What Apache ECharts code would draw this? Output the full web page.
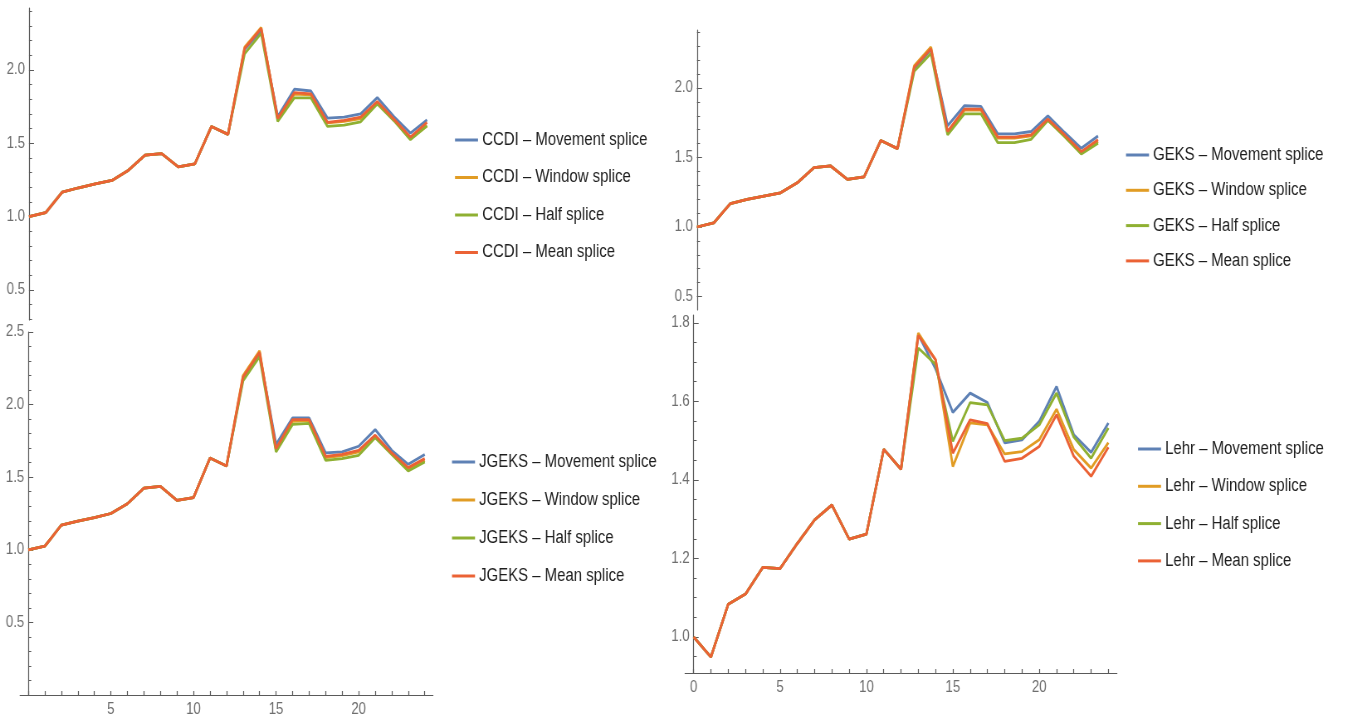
<!DOCTYPE html>
<html>
<head>
<meta charset="utf-8">
<title>Splice comparison</title>
<script src="https://cdn.jsdelivr.net/npm/echarts@6/dist/echarts.min.js"></script>
<style>
  html, body { margin: 0; padding: 0; background: #ffffff; overflow: hidden; }
  #wrap { width: 1355px; height: 720px; overflow: hidden; position: relative; }
  /* the drawing is laid out wide and squeezed horizontally, giving condensed lettering */
  #chart { height: 720px; position: absolute; left: 0; top: 0; transform-origin: 0 0; }
</style>
</head>
<body>
<div id="wrap"><div id="chart"></div></div>
<script>
// Periods on the horizontal axis
const periods = [0, 1, 2, 3, 4, 5, 6, 7, 8, 9, 10, 11, 12, 13, 14, 15, 16, 17, 18, 19, 20, 21, 22, 23, 24];

// Splice methods, one line each
const methods = ['Movement splice', 'Window splice', 'Half splice', 'Mean splice'];
const methodColors = ['#5e81b5', '#e19c24', '#8fb032', '#eb6235'];

// CCDI
const ccdiMovement = [1.000, 1.027, 1.167, 1.197, 1.224, 1.247, 1.317, 1.419, 1.430, 1.339, 1.360, 1.615, 1.561, 2.140, 2.270, 1.683, 1.869, 1.857, 1.672, 1.679, 1.701, 1.812, 1.683, 1.570, 1.660];
const ccdiWindow   = [1.000, 1.027, 1.167, 1.197, 1.224, 1.247, 1.317, 1.419, 1.430, 1.339, 1.360, 1.615, 1.561, 2.155, 2.290, 1.665, 1.835, 1.830, 1.640, 1.650, 1.668, 1.780, 1.660, 1.530, 1.620];
const ccdiHalf     = [1.000, 1.027, 1.167, 1.197, 1.224, 1.247, 1.317, 1.419, 1.430, 1.339, 1.360, 1.615, 1.561, 2.110, 2.250, 1.650, 1.810, 1.810, 1.615, 1.624, 1.647, 1.769, 1.655, 1.525, 1.620];
const ccdiMean     = [1.000, 1.027, 1.167, 1.197, 1.224, 1.247, 1.317, 1.419, 1.430, 1.339, 1.360, 1.615, 1.561, 2.147, 2.283, 1.670, 1.846, 1.837, 1.643, 1.656, 1.679, 1.785, 1.665, 1.543, 1.643];

// GEKS
const geksMovement = [1.000, 1.029, 1.169, 1.198, 1.222, 1.246, 1.318, 1.427, 1.439, 1.342, 1.361, 1.622, 1.564, 2.140, 2.275, 1.728, 1.872, 1.867, 1.670, 1.670, 1.687, 1.800, 1.680, 1.566, 1.655];
const geksWindow   = [1.000, 1.029, 1.169, 1.198, 1.222, 1.246, 1.318, 1.427, 1.439, 1.342, 1.361, 1.622, 1.564, 2.160, 2.295, 1.675, 1.840, 1.840, 1.640, 1.640, 1.655, 1.770, 1.655, 1.530, 1.615];
const geksHalf     = [1.000, 1.029, 1.169, 1.198, 1.222, 1.246, 1.318, 1.427, 1.439, 1.342, 1.361, 1.622, 1.564, 2.120, 2.248, 1.663, 1.814, 1.814, 1.607, 1.607, 1.631, 1.766, 1.650, 1.525, 1.602];
const geksMean     = [1.000, 1.029, 1.169, 1.198, 1.222, 1.246, 1.318, 1.427, 1.439, 1.342, 1.361, 1.622, 1.564, 2.149, 2.282, 1.687, 1.848, 1.848, 1.646, 1.646, 1.663, 1.776, 1.662, 1.542, 1.627];

// JGEKS
const jgeksMovement = [1.000, 1.025, 1.170, 1.198, 1.221, 1.250, 1.317, 1.425, 1.437, 1.340, 1.359, 1.632, 1.577, 2.180, 2.350, 1.726, 1.908, 1.908, 1.667, 1.674, 1.713, 1.828, 1.685, 1.589, 1.657];
const jgeksWindow   = [1.000, 1.025, 1.170, 1.198, 1.221, 1.250, 1.317, 1.425, 1.437, 1.340, 1.359, 1.632, 1.577, 2.200, 2.370, 1.685, 1.885, 1.890, 1.635, 1.648, 1.675, 1.780, 1.660, 1.548, 1.615];
const jgeksHalf     = [1.000, 1.025, 1.170, 1.198, 1.221, 1.250, 1.317, 1.425, 1.437, 1.340, 1.359, 1.632, 1.577, 2.163, 2.330, 1.674, 1.864, 1.870, 1.616, 1.628, 1.651, 1.772, 1.657, 1.543, 1.605];
const jgeksMean     = [1.000, 1.025, 1.170, 1.198, 1.221, 1.250, 1.317, 1.425, 1.437, 1.340, 1.359, 1.632, 1.577, 2.190, 2.359, 1.697, 1.897, 1.897, 1.644, 1.657, 1.685, 1.789, 1.667, 1.566, 1.628];

// Lehr
const lehrMovement = [1.000, 0.949, 1.083, 1.109, 1.177, 1.174, 1.238, 1.298, 1.336, 1.249, 1.262, 1.478, 1.427, 1.770, 1.683, 1.572, 1.621, 1.597, 1.494, 1.502, 1.549, 1.638, 1.515, 1.470, 1.545];
const lehrWindow   = [1.000, 0.949, 1.083, 1.109, 1.177, 1.174, 1.238, 1.298, 1.336, 1.249, 1.262, 1.478, 1.427, 1.774, 1.706, 1.434, 1.545, 1.540, 1.466, 1.472, 1.502, 1.580, 1.477, 1.430, 1.495];
const lehrHalf     = [1.000, 0.949, 1.083, 1.109, 1.177, 1.174, 1.238, 1.298, 1.336, 1.249, 1.262, 1.478, 1.427, 1.736, 1.694, 1.498, 1.597, 1.591, 1.500, 1.506, 1.540, 1.621, 1.509, 1.455, 1.532];
const lehrMean     = [1.000, 0.949, 1.083, 1.109, 1.177, 1.174, 1.238, 1.298, 1.336, 1.249, 1.262, 1.478, 1.427, 1.768, 1.706, 1.468, 1.553, 1.543, 1.447, 1.455, 1.485, 1.566, 1.460, 1.409, 1.483];

// Tick labels
const yLabelsTopLeft     = [0.5, 1.0, 1.5, 2.0];
const yLabelsTopRight    = [0.5, 1.0, 1.5, 2.0];
const yLabelsBottomLeft  = [0.5, 1.0, 1.5, 2.0, 2.5];
const yLabelsBottomRight = [1.0, 1.2, 1.4, 1.6, 1.8];
const xLabelsBottomLeft  = [5, 10, 15, 20];
const xLabelsBottomRight = [0, 5, 10, 15, 20];

const FONT = '"Liberation Sans", Arial, sans-serif';
const AXIS_COLOR = '#5a5a5a';
const LABEL_COLOR = '#6e6e6e';

// horizontal squeeze of the whole drawing
const SX = 0.83;
const W = Math.round(1355 / SX);
const el = document.getElementById('chart');
el.style.width = W + 'px';
el.style.transform = 'scaleX(' + SX + ')';
const h = v => v / SX;   // screen x-distance -> layout x-distance

// evenly spaced tick positions between lo and hi
function steps(lo, hi, step) {
  const out = [];
  const n = Math.round((hi - lo) / step);
  for (let i = 0; i <= n; i++) out.push(+(lo + i * step).toFixed(4));
  return out;
}

const panels = [
  { name: 'CCDI', values: [ccdiMovement, ccdiWindow, ccdiHalf, ccdiMean],
    box: { left: 29, top: 8, width: 398, height: 312 },
    xMin: 0, xMax: 24, showX: false, xLabels: [],
    yMin: 0.295, yMax: 2.423, yLabels: yLabelsTopLeft, yMinor: steps(0.3, 2.4, 0.1),
    legend: { left: 455, top: 130, itemGap: 17.5 } },
  { name: 'GEKS', values: [geksMovement, geksWindow, geksHalf, geksMean],
    box: { left: 697, top: 30, width: 401, height: 280 },
    xMin: 0, xMax: 24, showX: false, xLabels: [],
    yMin: 0.403, yMax: 2.417, yLabels: yLabelsTopRight, yMinor: steps(0.5, 2.4, 0.1),
    legend: { left: 1126, top: 145, itemGap: 15.3 } },
  { name: 'JGEKS', values: [jgeksMovement, jgeksWindow, jgeksHalf, jgeksMean],
    box: { left: 20, top: 332, width: 413, height: 363 },
    xMin: -0.5, xMax: 24.5, showX: true, xLabels: xLabelsBottomLeft,
    yMin: 0, yMax: 2.5, yLabels: yLabelsBottomLeft, yMinor: steps(0.1, 2.5, 0.1),
    legend: { left: 452, top: 452, itemGap: 18 } },
  { name: 'Lehr', values: [lehrMovement, lehrWindow, lehrHalf, lehrMean],
    box: { left: 685, top: 315, width: 432, height: 358 },
    xMin: -0.5, xMax: 24.5, showX: true, xLabels: xLabelsBottomRight,
    yMin: 0.908, yMax: 1.82, yLabels: yLabelsBottomRight, yMinor: steps(0.95, 1.8, 0.05),
    legend: { left: 1138, top: 439, itemGap: 17.3 } }
];

const option = {
  animation: false,
  backgroundColor: '#ffffff',
  grid: [], xAxis: [], yAxis: [], legend: [], series: []
};

panels.forEach((p, gi) => {
  const gw = h(p.box.width);
  option.grid.push({
    containLabel: false, outerBoundsMode: 'none',
    left: h(p.box.left), top: p.box.top, width: gw, height: p.box.height
  });
  // the vertical axis sits where x = 0
  const yOffset = -(0 - p.xMin) / (p.xMax - p.xMin) * gw;

  option.xAxis.push({
    type: 'value', gridIndex: gi, min: p.xMin, max: p.xMax, show: p.showX,
    splitLine: { show: false },
    axisLine: { show: true, onZero: false, lineStyle: { color: AXIS_COLOR, width: 1 } },
    axisTick: { show: true, inside: true, length: 4, customValues: periods, lineStyle: { color: AXIS_COLOR, width: h(1) } },
    axisLabel: { show: true, customValues: p.xLabels, margin: 7, color: LABEL_COLOR, fontSize: 16, fontFamily: FONT }
  });

  const yMain = option.yAxis.length;
  option.yAxis.push({
    type: 'value', gridIndex: gi, position: 'left', offset: yOffset, min: p.yMin, max: p.yMax,
    splitLine: { show: false },
    axisLine: { show: true, onZero: false, lineStyle: { color: AXIS_COLOR, width: h(1) } },
    axisTick: { show: true, inside: true, length: h(5), customValues: p.yLabels, lineStyle: { color: AXIS_COLOR } },
    axisLabel: { show: true, customValues: p.yLabels, margin: h(4), color: LABEL_COLOR, fontSize: 16, fontFamily: FONT,
                 formatter: v => v.toFixed(1) }
  });
  // minor ticks on a twin axis
  option.yAxis.push({
    type: 'value', gridIndex: gi, position: 'left', offset: yOffset, min: p.yMin, max: p.yMax,
    splitLine: { show: false },
    axisLine: { show: false, onZero: false },
    axisTick: { show: true, inside: true, length: h(3), customValues: p.yMinor, lineStyle: { color: AXIS_COLOR } },
    axisLabel: { show: false }
  });

  const names = methods.map(m => p.name + ' \u2013 ' + m);
  option.legend.push({
    orient: 'vertical', left: h(p.legend.left), top: p.legend.top, itemGap: p.legend.itemGap,
    icon: 'rect', itemWidth: h(23), itemHeight: 3, padding: 0,
    data: names,
    textStyle: { fontSize: 18, lineHeight: 20, color: '#1e1e1e', fontFamily: FONT }
  });

  p.values.forEach((vals, si) => {
    option.series.push({
      type: 'line', name: names[si], xAxisIndex: gi, yAxisIndex: yMain,
      data: periods.map((x, i) => [x, vals[i]]),
      symbol: 'none', smooth: false,
      color: methodColors[si],
      lineStyle: { width: 2.8, color: methodColors[si] },
      emphasis: { disabled: true },
      z: 2 + si
    });
  });
});

const chart = echarts.init(el, null, { renderer: 'canvas', width: W, height: 720 });
chart.setOption(option);
</script>
</body>
</html>
